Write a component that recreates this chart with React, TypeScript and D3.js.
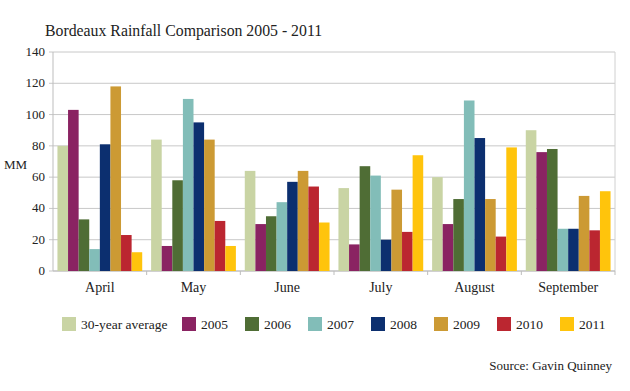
import * as d3 from 'd3';

const months = ['April', 'May', 'June', 'July', 'August', 'September'];
const seriesNames = ['30-year average', '2005', '2006', '2007', '2008', '2009', '2010', '2011'];
const seriesColors = ['#C9D4A4', '#8A2362', '#4F6D35', '#82BDB8', '#0C2F6F', '#CC9A34', '#BB2630', '#FFC40C'];

const avg30 = [80, 84, 64, 53, 60, 90];
const y2005 = [103, 16, 30, 17, 30, 76];
const y2006 = [33, 58, 35, 67, 46, 78];
const y2007 = [14, 110, 44, 61, 109, 27];
const y2008 = [81, 95, 57, 20, 85, 27];
const y2009 = [118, 84, 64, 52, 46, 48];
const y2010 = [23, 32, 54, 25, 22, 26];
const y2011 = [12, 16, 31, 74, 79, 51];
const yTicks = [0, 20, 40, 60, 80, 100, 120, 140];

const seriesValues = [avg30, y2005, y2006, y2007, y2008, y2009, y2010, y2011];

const App = () => {
  const width = 630;
  const height = 391;
  const margin = { top: 52, right: 15, bottom: 120, left: 53 };
  const innerWidth = width - margin.left - margin.right;
  const innerHeight = height - margin.top - margin.bottom;
  const font = '"Liberation Serif", Georgia, serif';

  const xScale = d3.scaleBand().domain(months).range([0, innerWidth]);
  const x1 = d3.scaleBand().domain(seriesNames).range([0, xScale.bandwidth()]).paddingOuter(0.42);
  const yScale = d3.scaleLinear().domain([0, 140]).range([innerHeight, 0]);

  const legendX = [62, 182, 245, 308, 371, 434, 497, 560];

  return (
    <svg width={width} height={height} style={{ position: 'absolute', left: 0, top: 0 }}>
      <rect width={width} height={height} fill="#fff" />
      <text x={45} y={36} fontFamily={font} fontSize={15.8} fill="#222">
        Bordeaux Rainfall Comparison 2005 - 2011
      </text>
      <g transform={`translate(${margin.left}, ${margin.top})`}>
        {yTicks.map((t) => (
          <g key={t} transform={`translate(0,${yScale(t)})`}>
            <line x1={-4} x2={innerWidth} stroke="#c8c8c8" strokeWidth={1} />
            <text x={-8} y={4} textAnchor="end" fontFamily={font} fontSize={13} fill="#222">{t}</text>
          </g>
        ))}
        <line x1={0} x2={0} y1={0} y2={innerHeight} stroke="#bdbdbd" />
        <line x1={innerWidth} x2={innerWidth} y1={0} y2={innerHeight} stroke="#d0d0d0" />
        <line x1={0} x2={innerWidth} y1={innerHeight} y2={innerHeight} stroke="#bdbdbd" />
        {months.map((m) => (
          <line key={'t' + m} x1={xScale(m)! + xScale.bandwidth()} x2={xScale(m)! + xScale.bandwidth()}
            y1={innerHeight} y2={innerHeight + 4} stroke="#bdbdbd" />
        ))}
        {months.map((m, i) => (
          <g key={m} transform={`translate(${xScale(m)},0)`}>
            {seriesNames.map((s, j) => (
              <rect key={s}
                x={x1(s)}
                y={yScale(seriesValues[j][i])}
                width={x1.bandwidth()}
                height={innerHeight - yScale(seriesValues[j][i])}
                fill={seriesColors[j]}
              />
            ))}
            <text x={xScale.bandwidth() / 2} y={innerHeight + 21} textAnchor="middle"
              fontFamily={font} fontSize={14} fill="#222">{m}</text>
          </g>
        ))}
      </g>
      <text x={4} y={169} fontFamily={font} fontSize={13} fill="#222">MM</text>
      {seriesNames.map((s, j) => (
        <g key={s} transform={`translate(${legendX[j]},317)`}>
          <rect width={14} height={14} fill={seriesColors[j]} />
          <text x={19} y={12} fontFamily={font} fontSize={13.5} fill="#222">{s}</text>
        </g>
      ))}
      <text x={612} y={370} textAnchor="end" fontFamily={font} fontSize={13} fill="#222">
        Source: Gavin Quinney
      </text>
    </svg>
  );
};

export default App;
